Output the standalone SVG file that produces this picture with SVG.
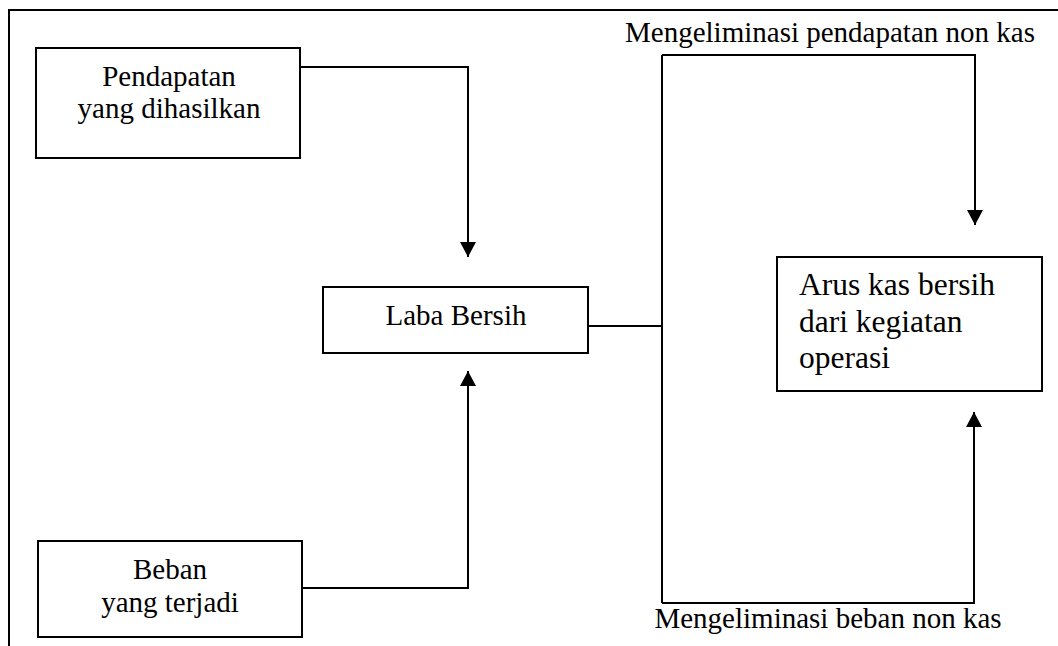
<svg xmlns="http://www.w3.org/2000/svg" width="1058" height="646" viewBox="0 0 1058 646">
<style>
  .box { fill: #ffffff; stroke: #000000; stroke-width: 2; }
  .line { fill: none; stroke: #000000; stroke-width: 2; }
  .t { font-family: "Liberation Serif", "Times New Roman", serif; font-size: 29px; fill: #000000; }
  .c { text-anchor: middle; }
  .big { font-size: 31.5px; }
</style>
<defs>
  <marker id="arrow" markerWidth="16" markerHeight="16" refX="15" refY="8" orient="auto" markerUnits="userSpaceOnUse">
    <path d="M0,0 L15,8 L0,16 Z" fill="#000000"/>
  </marker>
</defs>
<rect width="1058" height="646" fill="#ffffff"/>
<g id="frame">
  <path class="line" d="M9,646 L9,10 L1058,10"/>
</g>
<g id="connectors">
  <path class="line" d="M300,67 L468,67 L468,257" marker-end="url(#arrow)"/>
  <path class="line" d="M302,588 L468,588 L468,371" marker-end="url(#arrow)"/>
  <path class="line" d="M588,326 L662,326"/>
  <path class="line" d="M662,55 L662,603"/>
  <path class="line" d="M662,55 L975,55 L975,225" marker-end="url(#arrow)"/>
  <path class="line" d="M662,603 L974,603 L974,412" marker-end="url(#arrow)"/>
  <text class="t c" x="830" y="42">Mengeliminasi pendapatan non kas</text>
  <text class="t c" x="828" y="628">Mengeliminasi beban non kas</text>
</g>
<g id="pendapatan">
  <rect class="box" x="36" y="48" width="264" height="110"/>
  <text class="t c" x="169" y="86">Pendapatan</text>
  <text class="t c" x="169" y="118">yang dihasilkan</text>
</g>
<g id="laba">
  <rect class="box" x="323" y="287" width="265" height="66"/>
  <text class="t c" x="456" y="325">Laba Bersih</text>
</g>
<g id="beban">
  <rect class="box" x="38" y="541" width="264" height="96"/>
  <text class="t c" x="170" y="579">Beban</text>
  <text class="t c" x="170" y="612">yang terjadi</text>
</g>
<g id="arus">
  <rect class="box" x="777" y="257" width="265" height="134"/>
  <text class="t big" x="799" y="295">Arus kas bersih</text>
  <text class="t big" x="799" y="332">dari kegiatan</text>
  <text class="t big" x="799" y="368">operasi</text>
</g>
</svg>
